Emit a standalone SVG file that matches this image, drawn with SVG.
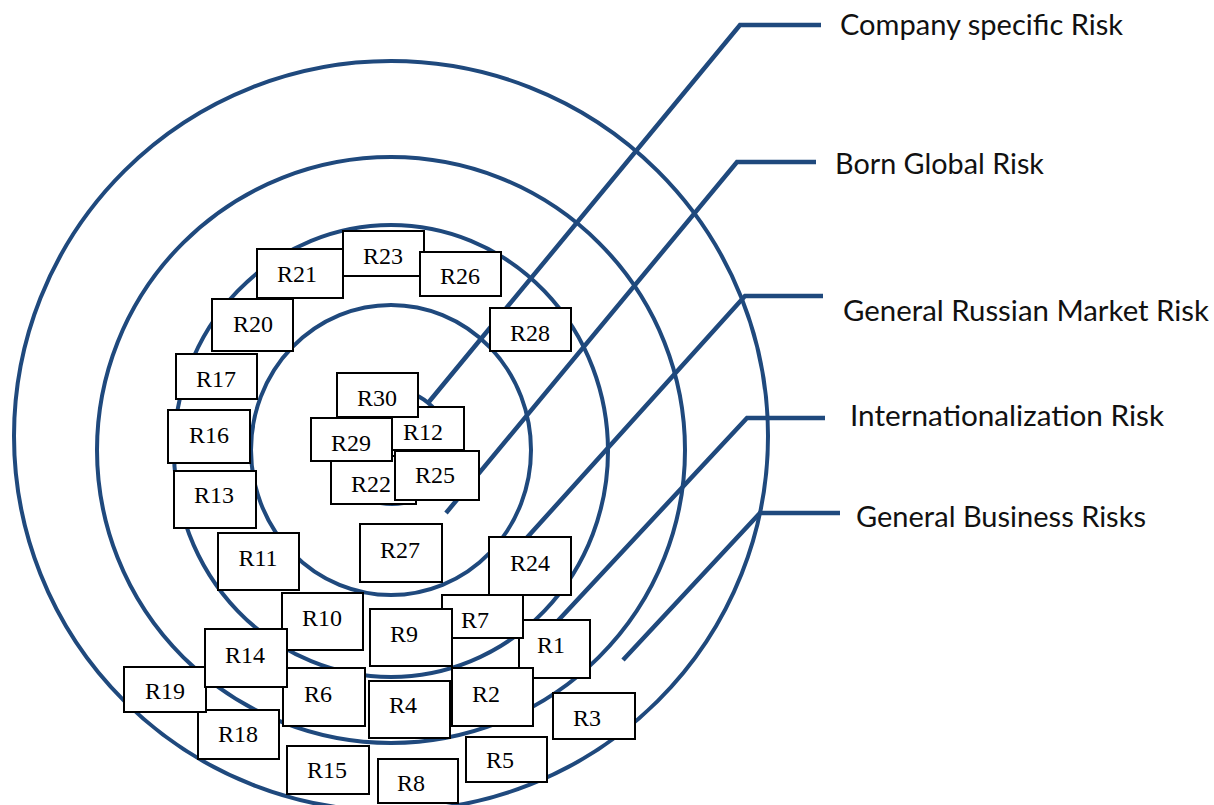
<svg xmlns="http://www.w3.org/2000/svg" width="1214" height="805" viewBox="0 0 1214 805">
  <style>
    .ring { fill: none; stroke: #1F497D; stroke-width: 4; }
    .lead { fill: none; stroke: #1F497D; stroke-width: 4.5; stroke-linejoin: miter; }
    .box rect { fill: #ffffff; stroke: #000000; stroke-width: 2; }
    .box text { font-family: "Liberation Serif", "Times New Roman", serif; font-size: 24px; fill: #000000; text-anchor: middle; }
    .cat { font-family: Lato, "Open Sans", "Liberation Sans", sans-serif; font-size: 28px; fill: #111111; }
  </style>
  <rect width="1214" height="805" fill="#ffffff"/>

  <!-- concentric risk rings -->
  <g id="rings">
    <ellipse class="ring" cx="391" cy="436" rx="377" ry="375"/>
    <ellipse class="ring" cx="391" cy="450" rx="294" ry="293"/>
    <ellipse class="ring" cx="391" cy="451" rx="217" ry="226"/>
    <ellipse class="ring" cx="391" cy="450" rx="140" ry="145"/>
    <circle class="ring" cx="392" cy="447" r="57"/>
  </g>

  <!-- leader lines from rings to category labels -->
  <g id="connectors">
    <polyline class="lead" points="821,25 740,25 428,403"/>
    <polyline class="lead" points="816,162 737,162 446,513"/>
    <polyline class="lead" points="823,296 745,296 505,562"/>
    <polyline class="lead" points="825,418 747,418 540,640"/>
    <polyline class="lead" points="840,513 760,513 623,660"/>
  </g>

  <!-- category labels -->
  <g id="labels">
    <text id="lbl-company" class="cat" x="840" y="35" textLength="283" lengthAdjust="spacingAndGlyphs">Company specific Risk</text>
    <text id="lbl-born" class="cat" x="835" y="174" textLength="209" lengthAdjust="spacingAndGlyphs">Born Global Risk</text>
    <text id="lbl-russian" class="cat" x="843" y="321" textLength="366" lengthAdjust="spacingAndGlyphs">General Russian Market Risk</text>
    <text id="lbl-intl" class="cat" x="850" y="426" textLength="314" lengthAdjust="spacingAndGlyphs">Internationalization Risk</text>
    <text id="lbl-business" class="cat" x="856" y="527" textLength="290" lengthAdjust="spacingAndGlyphs">General Business Risks</text>
  </g>

  <!-- risk nodes -->
  <g id="R12" class="box"><rect x="383" y="407" width="81" height="43"/><text x="423" y="440">R12</text></g>
  <g id="R22" class="box"><rect x="331" y="456" width="85" height="48"/><text x="371" y="492">R22</text></g>
  <g id="R30" class="box"><rect x="337" y="373" width="81" height="44"/><text x="377" y="406">R30</text></g>
  <g id="R29" class="box"><rect x="311" y="418" width="81" height="43"/><text x="351" y="451">R29</text></g>
  <g id="R25" class="box"><rect x="395" y="451" width="84" height="49"/><text x="435" y="483">R25</text></g>
  <g id="R23" class="box"><rect x="343" y="231" width="81" height="45"/><text x="383" y="264">R23</text></g>
  <g id="R26" class="box"><rect x="420" y="252" width="81" height="44"/><text x="460" y="284">R26</text></g>
  <g id="R21" class="box"><rect x="257" y="249" width="86" height="49"/><text x="297" y="282">R21</text></g>
  <g id="R20" class="box"><rect x="212" y="299" width="81" height="52"/><text x="253" y="332">R20</text></g>
  <g id="R28" class="box"><rect x="490" y="308" width="81" height="43"/><text x="530" y="341">R28</text></g>
  <g id="R17" class="box"><rect x="176" y="354" width="81" height="45"/><text x="216" y="387">R17</text></g>
  <g id="R16" class="box"><rect x="168" y="410" width="82" height="53"/><text x="209" y="443">R16</text></g>
  <g id="R13" class="box"><rect x="174" y="471" width="82" height="57"/><text x="214" y="503">R13</text></g>
  <g id="R11" class="box"><rect x="218" y="533" width="81" height="57"/><text x="258" y="566">R11</text></g>
  <g id="R27" class="box"><rect x="360" y="524" width="82" height="58"/><text x="400" y="558">R27</text></g>
  <g id="R24" class="box"><rect x="489" y="537" width="82" height="58"/><text x="530" y="571">R24</text></g>
  <g id="R1" class="box"><rect x="519" y="620" width="71" height="58"/><text x="551" y="653">R1</text></g>
  <g id="R7" class="box"><rect x="442" y="595" width="81" height="43"/><text x="475" y="628">R7</text></g>
  <g id="R9" class="box"><rect x="370" y="609" width="82" height="57"/><text x="404" y="642">R9</text></g>
  <g id="R10" class="box"><rect x="282" y="593" width="81" height="57"/><text x="322" y="626">R10</text></g>
  <g id="R6" class="box"><rect x="283" y="668" width="82" height="58"/><text x="318" y="702">R6</text></g>
  <g id="R18" class="box"><rect x="198" y="710" width="81" height="49"/><text x="238" y="742">R18</text></g>
  <g id="R19" class="box"><rect x="124" y="667" width="82" height="45"/><text x="165" y="699">R19</text></g>
  <g id="R14" class="box"><rect x="205" y="629" width="82" height="58"/><text x="245" y="663">R14</text></g>
  <g id="R4" class="box"><rect x="369" y="681" width="81" height="57"/><text x="403" y="713">R4</text></g>
  <g id="R2" class="box"><rect x="452" y="668" width="81" height="58"/><text x="486" y="702">R2</text></g>
  <g id="R3" class="box"><rect x="553" y="693" width="82" height="46"/><text x="587" y="726">R3</text></g>
  <g id="R15" class="box"><rect x="287" y="746" width="82" height="48"/><text x="327" y="778">R15</text></g>
  <g id="R8" class="box"><rect x="378" y="759" width="80" height="44"/><text x="411" y="791">R8</text></g>
  <g id="R5" class="box"><rect x="466" y="737" width="81" height="45"/><text x="500" y="768">R5</text></g>
</svg>
